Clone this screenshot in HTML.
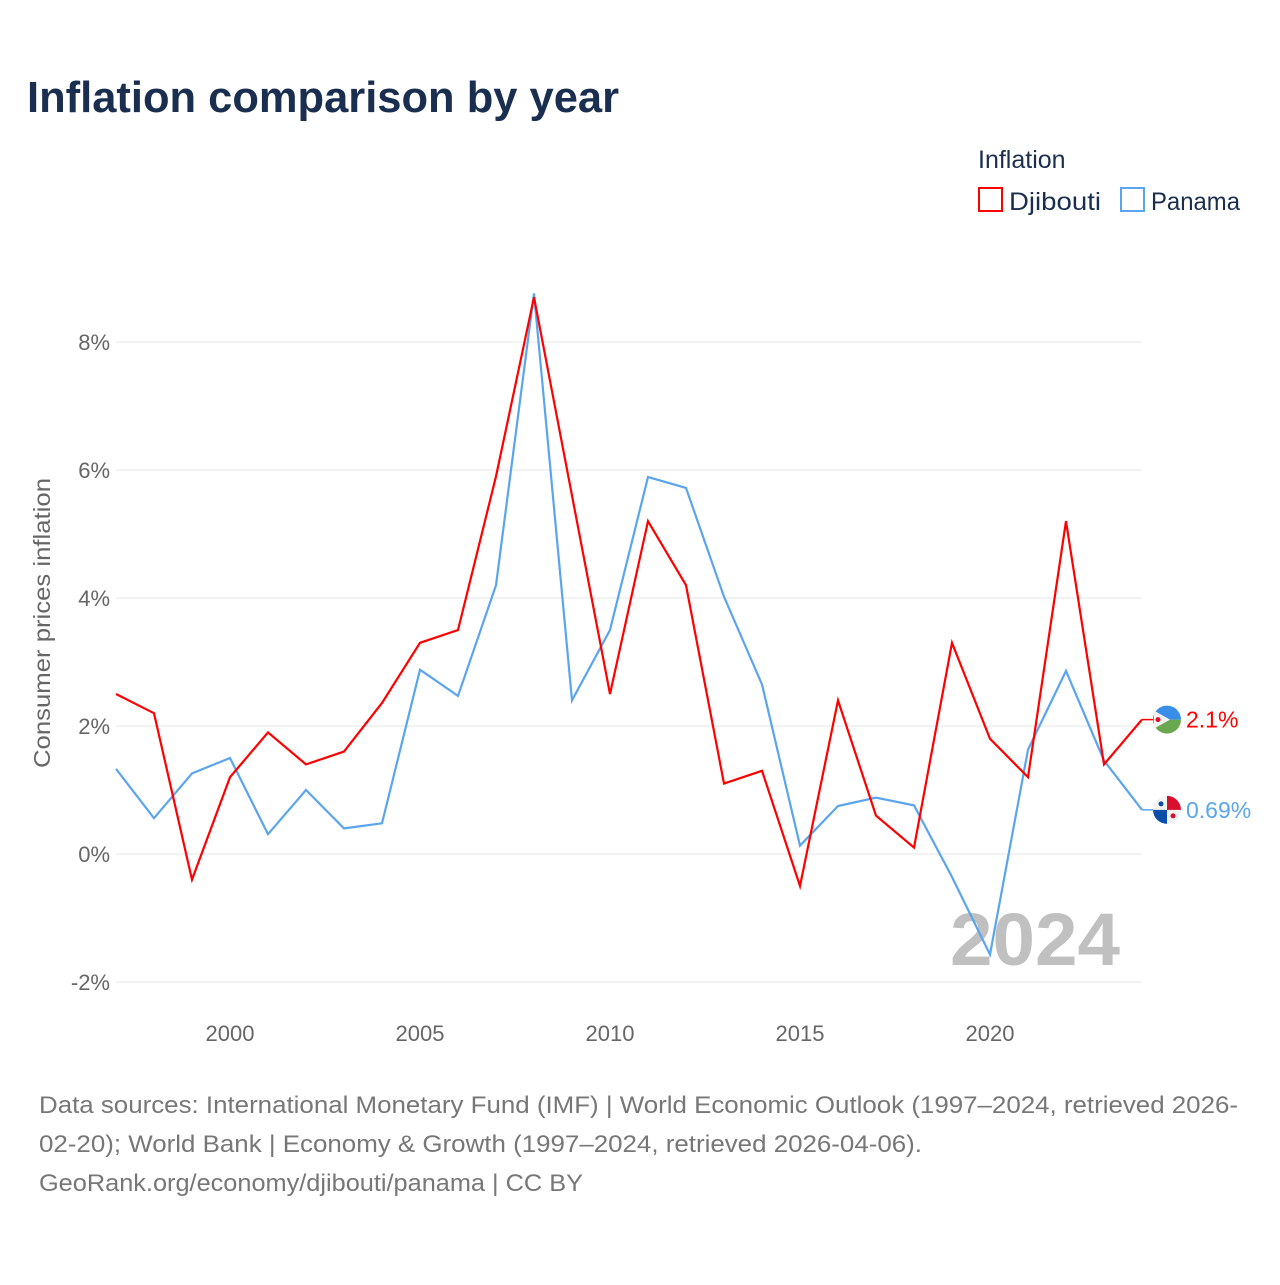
<!DOCTYPE html>
<html><head><meta charset="utf-8"><style>
body{margin:0;background:#fff;font-family:"Liberation Sans",sans-serif;}
</style></head><body>
<svg id="chart" width="1280" height="1280" xmlns="http://www.w3.org/2000/svg" font-family="Liberation Sans, sans-serif">
<rect width="1280" height="1280" fill="#fff"/>
<text x="27" y="112" font-size="44" font-weight="bold" fill="#1a2e4f" textLength="592" lengthAdjust="spacingAndGlyphs">Inflation comparison by year</text>
<g>
<text x="978" y="168" font-size="25" fill="#1a2e4f">Inflation</text>
<g><rect x="979" y="188" width="23" height="23" fill="none" stroke="#ff0000" stroke-width="2"/><text x="1009" y="210" font-size="25" fill="#1a2e4f" textLength="92" lengthAdjust="spacingAndGlyphs">Djibouti</text></g>
<g><rect x="1121" y="188" width="23" height="23" fill="none" stroke="#5aa5ee" stroke-width="2"/><text x="1151" y="210" font-size="25" fill="#1a2e4f" textLength="89" lengthAdjust="spacingAndGlyphs">Panama</text></g>
</g>
<text transform="translate(50,623) rotate(-90)" text-anchor="middle" font-size="23" fill="#666" textLength="290" lengthAdjust="spacingAndGlyphs">Consumer prices inflation</text>
<g id="grid"></g>
<text x="1120" y="965" text-anchor="end" font-size="74" font-weight="bold" fill="#c0c0c0" textLength="170" lengthAdjust="spacingAndGlyphs">2024</text>
<g id="series"></g>
<g font-size="24" fill="#777">
<text x="39" y="1113" textLength="1199" lengthAdjust="spacingAndGlyphs">Data sources: International Monetary Fund (IMF) | World Economic Outlook (1997–2024, retrieved 2026-</text>
<text x="39" y="1152" textLength="883" lengthAdjust="spacingAndGlyphs">02-20); World Bank | Economy &amp; Growth (1997–2024, retrieved 2026-04-06).</text>
<text x="39" y="1191" textLength="544" lengthAdjust="spacingAndGlyphs">GeoRank.org/economy/djibouti/panama | CC BY</text>
</g>
</svg>
<script>
const years=[1997,1998,1999,2000,2001,2002,2003,2004,2005,2006,2007,2008,2009,2010,2011,2012,2013,2014,2015,2016,2017,2018,2019,2020,2021,2022,2023,2024];
const djibouti=[2.5,2.2,-0.4,1.2,1.9,1.4,1.6,2.36,3.3,3.5,5.9,8.7,5.6,2.5,5.2,4.2,1.1,1.3,-0.5,2.4,0.6,0.1,3.3,1.8,1.2,5.2,1.4,2.1];
const panama=[1.33,0.56,1.26,1.5,0.31,1.0,0.4,0.48,2.88,2.47,4.2,8.76,2.4,3.5,5.89,5.72,4.02,2.65,0.13,0.75,0.88,0.76,-0.36,-1.57,1.63,2.86,1.46,0.69];
const yTicks=[-2,0,2,4,6,8];
const xTicks=[2000,2005,2010,2015,2020];
const NS="http://www.w3.org/2000/svg";
const X=y=>116+(y-1997)*38;
const Y=v=>854-v*64;
const grid=document.getElementById('grid'),ser=document.getElementById('series');
function mk(tag,attrs,parent){const e=document.createElementNS(NS,tag);for(const k in attrs)e.setAttribute(k,attrs[k]);parent.appendChild(e);return e;}
yTicks.forEach(t=>{
 const l=mk('line',{x1:116,x2:1142,y1:Y(t),y2:Y(t),stroke:'#e6e6e6','stroke-width':1},grid);
 
 
 const tx=mk('text',{x:110,y:Y(t)+8,'text-anchor':'end','font-size':22,fill:'#666'},grid);
 tx.textContent=t+'%';
 
 
});
xTicks.forEach(t=>{
 const tx=mk('text',{x:X(t),y:1041,'text-anchor':'middle','font-size':22,fill:'#666'},grid);
 tx.textContent=t;
 
 
});
function line(vals,color,name){
 const p=mk('polyline',{points:vals.map((v,i)=>X(years[i])+','+Y(v)).join(' '),fill:'none',stroke:color,'stroke-width':2.2,'stroke-linejoin':'miter'},ser);
 
 
}
line(panama,'#5aa5ee','panama-line');
line(djibouti,'#ff0000','djibouti-line');
function endLabel(vals,color,name,flag){
 const v=vals[vals.length-1],y=Y(v);
 const g=mk('g',{},ser);
 
 
 mk('line',{x1:1142,x2:1154,y1:y,y2:y,stroke:color,'stroke-width':1.5},g);
 const cx=1167,r=14;
 if(flag==='dj'){
  mk('path',{d:`M${cx-r},${y} A${r},${r} 0 0 1 ${cx+r},${y} Z`,fill:'#3a8ee8'},g);
  mk('path',{d:`M${cx-r},${y} A${r},${r} 0 0 0 ${cx+r},${y} Z`,fill:'#6aa84f'},g);
  mk('path',{d:`M${cx-r+1},${y-9} L${cx+3},${y} L${cx-r+1},${y+9} Z`,fill:'#f2f2f2'},g);
  mk('circle',{cx:cx-9,cy:y,r:2.5,fill:'#e0102a'},g);
 }else{
  mk('circle',{cx:cx,cy:y,r:r,fill:'#f2f2f2'},g);
  mk('path',{d:`M${cx},${y} L${cx},${y-r} A${r},${r} 0 0 1 ${cx+r},${y} Z`,fill:'#d8102e'},g);
  mk('path',{d:`M${cx},${y} L${cx-r},${y} A${r},${r} 0 0 0 ${cx},${y+r} Z`,fill:'#0a4ea8'},g);
  mk('circle',{cx:cx-6,cy:y-6,r:2.5,fill:'#0a4ea8'},g);
  mk('circle',{cx:cx+6,cy:y+6,r:2.5,fill:'#d8102e'},g);
 }
 const t=mk('text',{x:1186,y:y+8,'font-size':23,fill:color},g);
 t.textContent=(name.startsWith('dj')?v.toFixed(1):v.toFixed(2))+'%';
}
endLabel(djibouti,'#ff0000','djibouti-end-label','dj');
endLabel(panama,'#5aa5ee','panama-end-label','pa');
</script>
</body></html>
